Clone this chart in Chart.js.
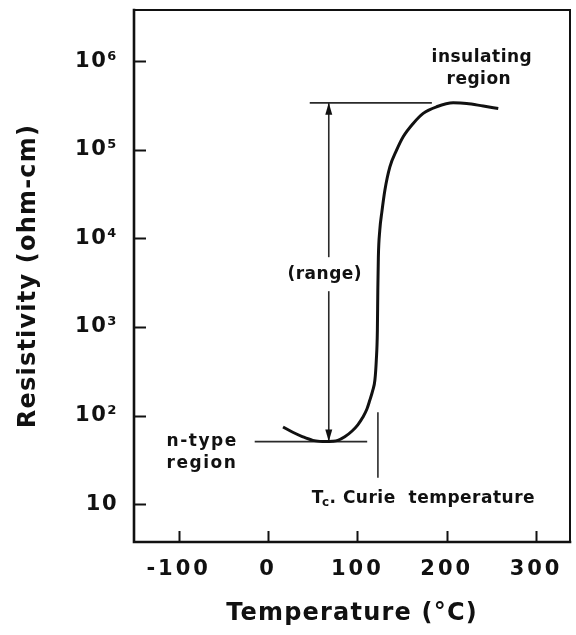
<!DOCTYPE html>
<html>
<head>
<meta charset="utf-8">
<script src="https://cdn.jsdelivr.net/npm/chart.js@4/dist/chart.umd.min.js"></script>
<style>
  html, body { margin: 0; padding: 0; background: #fff; }
  canvas { display: block; }
</style>
</head>
<body>
<canvas id="chart" width="576" height="635"></canvas>
<script>
// Resistivity of a PTC ceramic versus temperature
const temperatureC = [16.8, 27.7, 38.9, 50.1, 58, 65, 72, 78.1, 85.9, 93.8, 100.5, 106.1, 110.6, 113.9,
  117.3, 119.6, 121.2, 122.4, 122.9, 123.5, 125.1, 127.4, 130.8, 136.4, 143.9, 151.3, 162.5, 173.7,
  188.7, 207.3, 222.3, 240.9, 257.7];
const resistivityOhmCm = [74.5, 65, 57.8, 52.7, 51.3, 51, 51.4, 52.7, 57.8, 66.7, 78.9, 95.9, 118, 149,
  194, 251, 422, 920, 2600, 6140, 12400, 19800, 35000, 64100, 98900, 140000, 198000, 257000,
  305000, 338000, 333000, 311000, 292000];

const xTickValues = [-100, 0, 100, 200, 300];
const yTickValues = [10, 100, 1000, 10000, 100000, 1000000];

// Range marker: from the n-type minimum up to the insulating plateau
const nTypeMinimum = 51;
const insulatingMaximum = 338000;
const rangeAt = 68;
const rangeTopSpan = [46.7, 183.4];
const nTypeBaseSpan = [-14.9, 111];
// Curie temperature marker
const curieTemperature = 123;
const curieMarkSpan = [20, 109];

const SUP = { 2: '\u00B2', 3: '\u00B3', 4: '\u2074', 5: '\u2075', 6: '\u2076' };
const INK = '#111';
const FONT = '"DejaVu Sans", sans-serif';

// canvas letter spacing for a scale's tick labels and title
function withSpacing(scale, tickSpacing, titleSpacing) {
  if (scale.__spaced) return;
  const wrap = (name, spacing) => {
    const orig = scale[name];
    scale[name] = function (...args) {
      const ctx = this.ctx;
      ctx.save();
      ctx.letterSpacing = spacing;
      orig.apply(this, args);
      ctx.restore();
    };
  };
  wrap('drawLabels', tickSpacing);
  wrap('drawTitle', titleSpacing);
  scale.__spaced = true;
}

const figurePlugin = {
  id: 'figure',
  afterDatasetsDraw(chart) {
    const { ctx, chartArea: a, scales: { x, y } } = chart;
    ctx.save();
    ctx.strokeStyle = INK;
    ctx.lineCap = 'square';
    // frame
    ctx.lineWidth = 2.6;
    ctx.beginPath();
    ctx.moveTo(a.left, a.top); ctx.lineTo(a.left, a.bottom); ctx.lineTo(a.right, a.bottom);
    ctx.stroke();
    ctx.lineWidth = 2;
    ctx.beginPath();
    ctx.moveTo(a.left, a.top); ctx.lineTo(a.right, a.top); ctx.lineTo(a.right, a.bottom);
    ctx.stroke();
    // inward ticks
    ctx.lineWidth = 2;
    ctx.lineCap = 'butt';
    yTickValues.forEach(v => {
      const py = Math.round(y.getPixelForValue(v)) + 0.5;
      ctx.beginPath(); ctx.moveTo(a.left, py); ctx.lineTo(a.left + 12, py); ctx.stroke();
    });
    xTickValues.forEach(v => {
      const px = Math.round(x.getPixelForValue(v)) + 0.5;
      ctx.beginPath(); ctx.moveTo(px, a.bottom); ctx.lineTo(px, a.bottom - 11); ctx.stroke();
    });

    // "(range)" label interrupts the arrow
    ctx.font = 'bold 17px ' + FONT;
    ctx.letterSpacing = '0.5px';
    ctx.textBaseline = 'middle';
    const rx = x.getPixelForValue(rangeAt);
    const ry = y.getPixelForValue(Math.pow(10, 3.596));
    const rw = ctx.measureText('(range)').width;
    ctx.fillStyle = '#fff';
    ctx.fillRect(rx - 4 - rw / 2 - 1, ry - 17, rw + 2, 34);
    ctx.fillStyle = INK;
    ctx.textAlign = 'center';
    ctx.fillText('(range)', rx - 4, ry);

    // arrowheads on the range marker
    const arrow = (px, py, dir) => {
      ctx.beginPath();
      ctx.moveTo(px, py);
      ctx.lineTo(px - 3.5, py - dir * 12);
      ctx.lineTo(px + 3.5, py - dir * 12);
      ctx.closePath();
      ctx.fill();
    };
    arrow(rx, y.getPixelForValue(insulatingMaximum), -1);
    arrow(rx, y.getPixelForValue(nTypeMinimum), 1);

    // region labels
    ctx.textAlign = 'center';
    ctx.fillText('insulating', x.getPixelForValue(239.4), y.getPixelForValue(Math.pow(10, 6.034)));
    ctx.fillText('region', x.getPixelForValue(236), y.getPixelForValue(Math.pow(10, 5.786)));
    ctx.textAlign = 'left';
    ctx.letterSpacing = '1.5px';
    const nx = x.getPixelForValue(-113.5);
    ctx.fillText('n-type', nx, y.getPixelForValue(nTypeMinimum));
    ctx.fillText('region', nx, y.getPixelForValue(29));

    // T_c, Curie temperature
    ctx.letterSpacing = '0.5px';
    let tx = x.getPixelForValue(49);
    const ty = y.getPixelForValue(11.7);
    ctx.fillText('T', tx, ty);
    tx += ctx.measureText('T').width - 2;
    ctx.font = 'bold 12px ' + FONT;
    ctx.fillText('c', tx, ty + 5);
    tx += ctx.measureText('c').width;
    ctx.font = 'bold 17px ' + FONT;
    ctx.fillText('. Curie  temperature', tx, ty);
    ctx.restore();
  }
};

const lineMark = (points) => ({
  data: points,
  borderColor: '#2a2a2a',
  borderWidth: 1.6,
  pointRadius: 0,
  tension: 0,
  fill: false
});

new Chart(document.getElementById('chart'), {
  type: 'line',
  data: {
    datasets: [
      {
        data: temperatureC.map((t, i) => ({ x: t, y: resistivityOhmCm[i] })),
        borderColor: INK,
        borderWidth: 3,
        pointRadius: 0,
        cubicInterpolationMode: 'monotone',
        fill: false
      },
      lineMark([{ x: rangeTopSpan[0], y: insulatingMaximum }, { x: rangeTopSpan[1], y: insulatingMaximum }]),
      lineMark([{ x: nTypeBaseSpan[0], y: nTypeMinimum }, { x: nTypeBaseSpan[1], y: nTypeMinimum }]),
      lineMark([{ x: rangeAt, y: nTypeMinimum }, { x: rangeAt, y: insulatingMaximum }]),
      lineMark([{ x: curieTemperature, y: curieMarkSpan[0] }, { x: curieTemperature, y: curieMarkSpan[1] }])
    ]
  },
  options: {
    responsive: false,
    animation: false,
    devicePixelRatio: 1,
    events: [],
    layout: { padding: { top: 10, right: 6, left: 0, bottom: 0 } },
    plugins: { legend: { display: false }, tooltip: { enabled: false } },
    scales: {
      x: {
        type: 'linear',
        min: -150,
        max: 338,
        grid: { display: false },
        border: { display: false },
        afterBuildTicks: s => { s.ticks = xTickValues.map(v => ({ value: v })); },
        afterFit: s => {
          s.height = 93; s.paddingLeft = 0; s.paddingRight = 0;
          withSpacing(s, '3px', '1.2px');
        },
        ticks: {
          color: INK,
          padding: 7,
          maxRotation: 0,
          font: { family: FONT, size: 21, weight: 'bold' },
          callback: v => String(v)
        },
        title: {
          display: true,
          text: 'Temperature (\u00B0C)',
          color: INK,
          font: { family: FONT, size: 24, weight: 'bold' },
          padding: { top: 0, bottom: 7 }
        }
      },
      y: {
        type: 'logarithmic',
        min: Math.pow(10, 0.575),
        max: Math.pow(10, 6.576),
        grid: { display: false },
        border: { display: false },
        afterBuildTicks: s => { s.ticks = yTickValues.map(v => ({ value: v })); },
        afterFit: s => {
          s.width = 134; s.paddingTop = 0; s.paddingBottom = 0;
          withSpacing(s, '1.5px', '1.2px');
        },
        ticks: {
          color: INK,
          padding: 8,
          font: { family: FONT, size: 21, weight: 'bold' },
          callback: v => {
            const e = Math.round(Math.log10(v));
            return e === 1 ? '10' : '10' + SUP[e];
          }
        },
        title: {
          display: true,
          text: 'Resistivity (ohm-cm)',
          color: INK,
          font: { family: FONT, size: 24, weight: 'bold' },
          padding: { top: 14, bottom: 0 }
        }
      }
    }
  },
  plugins: [figurePlugin]
});
</script>
</body>
</html>
